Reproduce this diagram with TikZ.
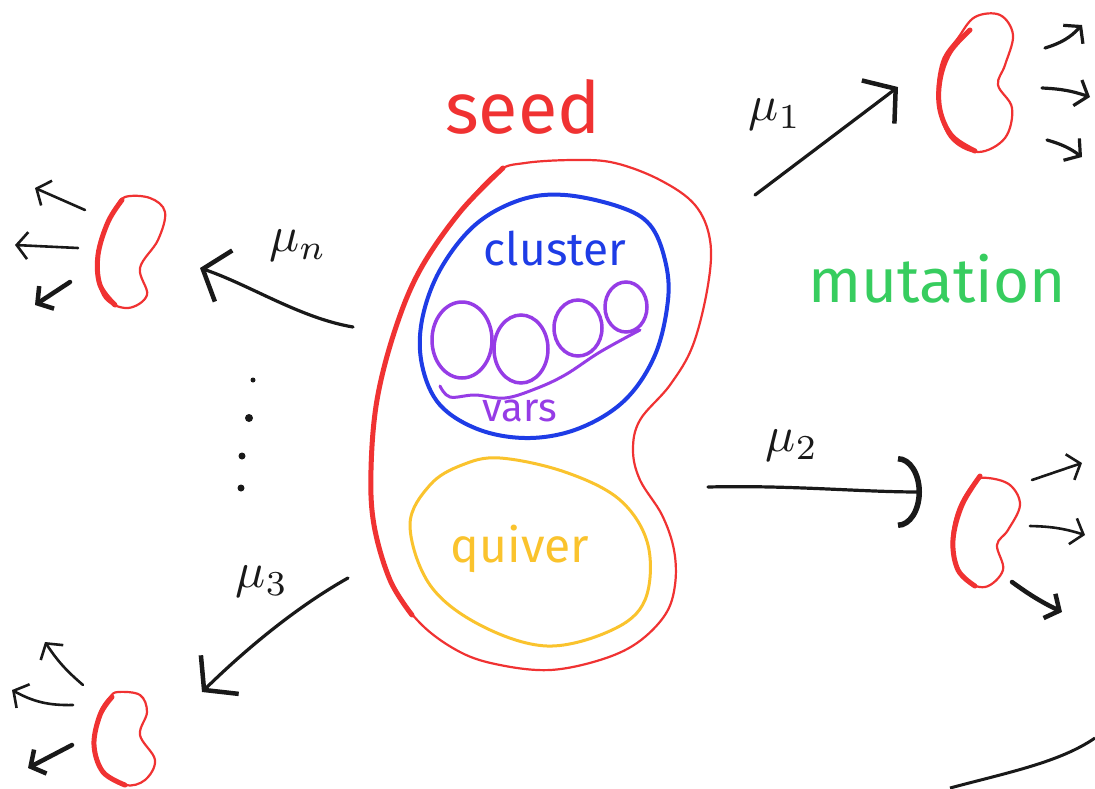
\documentclass[tikz,border=0pt]{standalone}
\usepackage{fontspec}
\setmainfont{Fira Sans}
\usetikzlibrary{arrows.meta}
\definecolor{inkred}{RGB}{240,50,50}
\definecolor{inkblue}{RGB}{30,60,230}
\definecolor{inkpurple}{RGB}{150,60,230}
\definecolor{inkyellow}{RGB}{250,195,45}
\definecolor{inkgreen}{RGB}{55,205,95}
\definecolor{inkblack}{RGB}{25,25,25}
\tikzset{
  thinred/.style={draw=inkred, line width=2.2pt, line cap=round, line join=round},
  thickred/.style={draw=inkred, line width=5pt, line cap=round, line join=round},
  bigarrow/.style={draw=inkblack, line width=3.2pt, line cap=round, line join=round,
    -{Straight Barb[length=22pt,width=54pt,line width=4.5pt]}},
  roundarrow/.style={draw=inkblack, line width=3.2pt, line cap=round,
    -{Arc Barb[length=24pt,width=72pt,line width=5.5pt]}},
  smallarrow/.style={draw=inkblack, line width=2.6pt, line cap=round, line join=round,
    -{Straight Barb[length=11pt,width=27pt]}},
  smallthick/.style={draw=inkblack, line width=4.5pt, line cap=round, line join=round,
    -{Straight Barb[length=11pt,width=27pt]}},
  lbl/.style={inner sep=0pt, text=inkblack},
}
\begin{document}
\begin{tikzpicture}[x=1pt,y=-1pt]
\useasboundingbox[fill=white] (0,0) rectangle (1095,788);

% ---------- big seed ----------
\draw[thinred] plot[smooth cycle, tension=0.6] coordinates {
 (497,172) (525,163) (575,160) (615,163) (660,180) (695,205) (710,240) (708,285)
 (693,345) (670,385) (640,420) (633,450) (640,480) (662,515) (674,550) (675,585)
 (665,615) (637,643) (600,660) (550,670) (500,665) (460,652) (420,623) (390,580)
 (374,525) (371,470) (377,400) (395,330) (420,270) (460,212)};
\draw[thickred] plot[smooth, tension=0.6] coordinates {
 (503,168) (460,212) (420,270) (395,330) (377,400) (371,470) (374,525) (390,580) (412,615)};
\node[text=inkred, font=\fontsize{72}{80}\selectfont, anchor=base west, inner sep=0pt] (seed) at (445,133) {seed};

% ---------- cluster ----------
\draw[draw=inkblue, line width=4pt, line cap=round] plot[smooth cycle, tension=0.6] coordinates {
 (565,195) (620,207) (650,225) (665,260) (668,300) (655,355) (625,400) (580,428)
 (530,438) (480,430) (440,405) (422,365) (422,320) (440,270) (475,225) (520,200)};
\node[text=inkblue, font=\fontsize{46}{50}\selectfont, anchor=base, inner sep=0pt] (cluster) at (555,265) {cluster};

% ---------- variables ----------
\foreach \cx/\cy/\rx/\ry [count=\i] in {462/340/30/38, 521/349/27/34, 578/328/24/28, 626/307/21/25}
  \draw[draw=inkpurple, line width=3.5pt] (\cx,\cy) ellipse [x radius=\rx pt, y radius=\ry pt];
\draw[draw=inkpurple, line width=3pt, line cap=round] plot[smooth, tension=0.6] coordinates {
 (440,386) (450,397) (475,395) (505,398) (535,389) (565,375) (600,352) (640,330)};
\node[text=inkpurple, font=\fontsize{40}{44}\selectfont, anchor=base, inner sep=0pt] (vars) at (520,421) {vars};

% ---------- quiver ----------
\draw[draw=inkyellow, line width=3pt, line cap=round] plot[smooth cycle, tension=0.6] coordinates {
 (500,458) (565,472) (620,500) (648,545) (645,600) (612,630) (547,646) (480,625)
 (430,585) (410,525) (430,485) (462,465)};
\node[text=inkyellow, font=\fontsize{48}{52}\selectfont, anchor=base, inner sep=0pt] (quiver) at (520,562) {quiver};

% ---------- mutation ----------
\node[text=inkgreen, font=\fontsize{62}{66}\selectfont, anchor=base west, inner sep=0pt] (mutation) at (808,302) {mutation};

% ---------- main mutation arrows ----------
\coordinate (m1s) at (755,195); \coordinate (m1e) at (898,87);
\coordinate (m2s) at (708,487); \coordinate (m2e) at (922,492);
\coordinate (m3s) at (348,578); \coordinate (m3e) at (202,692);
\coordinate (mns) at (353,327); \coordinate (mne) at (200,268);
\draw[bigarrow] (m1s) -- (m1e);
\draw[roundarrow] (m2s) .. controls (790,485) and (860,492) .. (m2e);
\draw[bigarrow] (m3s) .. controls (300,605) and (250,645) .. (m3e);
\draw[bigarrow] (mns) .. controls (300,318) and (250,285) .. (mne);
\node[lbl] (mu1) at (775,115) {\scalebox{5}{$\mu_1$}};
\node[lbl] (mu2) at (792,446) {\scalebox{5}{$\mu_2$}};
\node[lbl] (mu3) at (262,582) {\scalebox{5}{$\mu_3$}};
\node[lbl] (mun) at (298,246) {\scalebox{5}{$\mu_n$}};

% ---------- dots ----------
\fill[inkblack] (253,380) circle [radius=2.5pt];
\fill[inkblack] (249,418) circle [radius=4pt];
\fill[inkblack] (242,456) circle [radius=3.5pt];
\fill[inkblack] (241,488) circle [radius=3.5pt];

% ---------- top-right seed ----------
\draw[thinred] plot[smooth cycle, tension=0.6] coordinates {
 (975,17) (1000,15) (1013,35) (1005,65) (998,85) (1012,108) (1005,138) (978,152)
 (950,137) (938,100) (942,62) (958,38)};
\draw[thickred] plot[smooth, tension=0.6] coordinates {
 (970,30) (950,52) (940,80) (940,110) (952,136) (975,151)};
\coordinate (tr1s) at (1045,48); \coordinate (tr1e) at (1082,25);
\coordinate (tr2s) at (1042,88); \coordinate (tr2e) at (1090,97);
\coordinate (tr3s) at (1047,140); \coordinate (tr3e) at (1082,157);
\draw[smallarrow, line width=3.2pt] (tr1s) to[bend right=15] (tr1e);
\draw[smallarrow, line width=3.2pt] (tr2s) to[bend left=8] (tr2e);
\draw[smallarrow, line width=3.2pt] (tr3s) to[bend left=10] (tr3e);

% ---------- right-middle seed ----------
\draw[thinred] plot[smooth cycle, tension=0.6] coordinates {
 (988,478) (1010,485) (1020,505) (1008,530) (997,545) (1003,570) (985,587)
 (962,577) (952,545) (958,510) (975,482)};
\draw[thickred] plot[smooth, tension=0.6] coordinates {
 (980,476) (962,505) (953,540) (958,570) (975,586)};
\coordinate (rm1s) at (1032,480); \coordinate (rm1e) at (1082,463);
\coordinate (rm2s) at (1030,526); \coordinate (rm2e) at (1085,535);
\coordinate (rm3s) at (1012,582); \coordinate (rm3e) at (1062,612);
\draw[smallarrow] (rm1s) -- (rm1e);
\draw[smallarrow] (rm2s) to[bend left=8] (rm2e);
\draw[smallthick] (rm3s) to[bend right=5] (rm3e);

% ---------- left-top seed ----------
\draw[thinred] plot[smooth cycle, tension=0.6] coordinates {
 (125,197) (150,198) (165,212) (158,240) (140,268) (147,295) (128,308) (105,298)
 (97,268) (102,235) (115,210)};
\draw[thickred] plot[smooth, tension=0.6] coordinates {
 (122,200) (108,222) (98,255) (100,285) (115,305)};
\coordinate (lt1s) at (85,210); \coordinate (lt1e) at (35,188);
\coordinate (lt2s) at (78,248); \coordinate (lt2e) at (15,245);
\coordinate (lt3s) at (70,282); \coordinate (lt3e) at (35,305);
\draw[smallarrow] (lt1s) -- (lt1e);
\draw[smallarrow] (lt2s) -- (lt2e);
\draw[smallthick] (lt3s) -- (lt3e);

% ---------- left-bottom seed ----------
\draw[thinred] plot[smooth cycle, tension=0.6] coordinates {
 (118,692) (140,695) (147,712) (140,735) (155,760) (145,780) (125,785) (102,770)
 (94,740) (100,712) (110,697)};
\draw[thickred] plot[smooth, tension=0.6] coordinates {
 (112,697) (100,715) (94,745) (103,772) (125,785)};
\coordinate (lb1s) at (83,685); \coordinate (lb1e) at (45,642);
\coordinate (lb2s) at (73,705); \coordinate (lb2e) at (12,690);
\coordinate (lb3s) at (72,745); \coordinate (lb3e) at (28,768);
\draw[smallarrow] (lb1s) to[bend left=8] (lb1e);
\draw[smallarrow] (lb2s) to[bend left=15] (lb2e);
\draw[smallthick] (lb3s) -- (lb3e);

% ---------- bottom-right arc ----------
\coordinate (arcs) at (950,788); \coordinate (arce) at (1095,738);
\draw[draw=inkblack, line width=3pt] (arcs) .. controls (1010,772) and (1060,762) .. (arce);
\end{tikzpicture}
\end{document}
